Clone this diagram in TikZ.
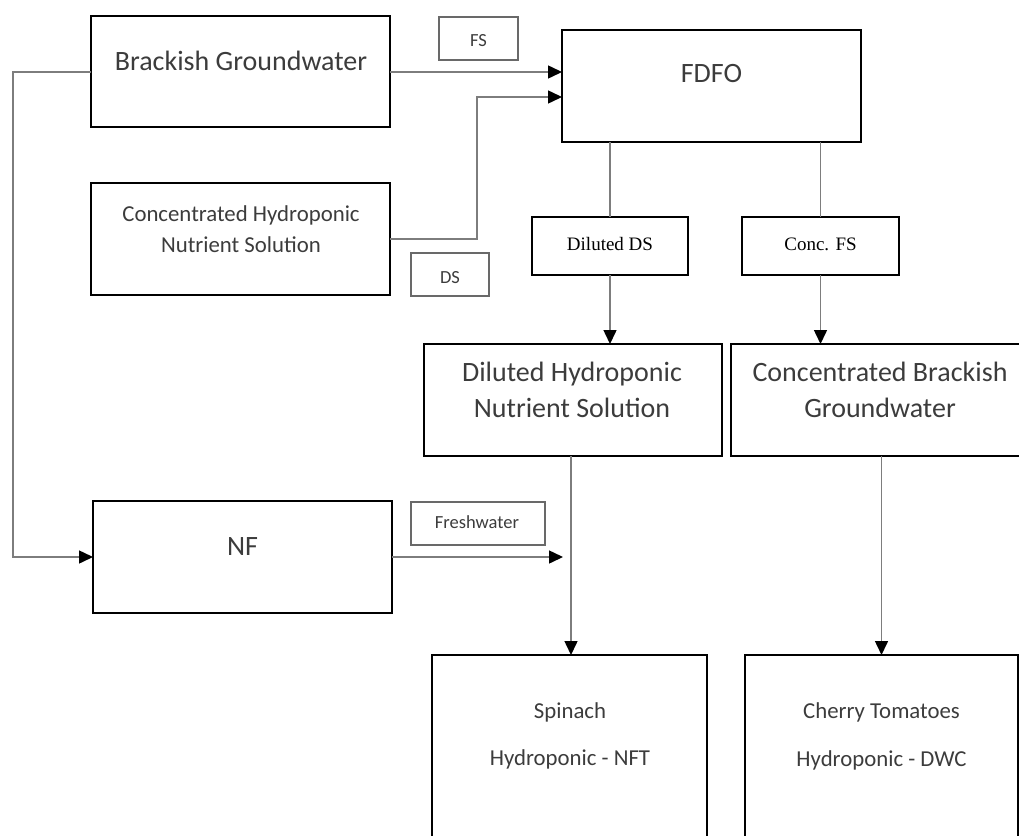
\documentclass[tikz,border=0pt]{standalone}
\usepackage{fontspec}
\newfontfamily\carlito{Carlito}
\newfontfamily\tnr{Liberation Serif}
\usetikzlibrary{arrows.meta}
\definecolor{txt}{RGB}{60,60,60}
\definecolor{lncol}{RGB}{125,125,125}
\definecolor{lbcol}{RGB}{105,105,105}
\begin{document}
\begin{tikzpicture}[x=1pt,y=-1pt,
  mainbox/.style={draw=black,line width=2.6pt,inner sep=0pt,outer sep=0pt,rectangle},
  tagbox/.style={draw=lbcol,line width=1.4pt,inner sep=0pt,outer sep=0pt,rectangle},
  midbox/.style={draw=black,line width=1.8pt,inner sep=0pt,outer sep=0pt,rectangle},
  bigtxt/.style={font=\carlito\fontsize{28}{33}\selectfont,text=txt,anchor=base,inner sep=0pt},
  medtxt/.style={font=\carlito\fontsize{22.8}{27}\selectfont,text=txt,anchor=base,inner sep=0pt},
  smltxt/.style={font=\carlito\fontsize{18.5}{22}\selectfont,text=txt,anchor=base,inner sep=0pt},
  tmstxt/.style={font=\tnr\fontsize{19}{23}\selectfont,text=black,anchor=base,inner sep=0pt},
  conline/.style={draw=lncol,line width=1.5pt},
  arrline/.style={conline,-{Triangle[length=14pt,width=13pt,color=black]}}
]
\useasboundingbox (0,0) rectangle (1019,835);
\clip (0,0) rectangle (1019,835);

% boxes
\node[mainbox,minimum width=299pt,minimum height=111pt] (bg)   at (240.5,71.5) {};
\node[mainbox,minimum width=299pt,minimum height=112pt] (chns) at (240.5,239) {};
\node[mainbox,minimum width=299pt,minimum height=112pt] (fdfo) at (711.5,86) {};
\node[tagbox,minimum width=79pt,minimum height=43pt]    (fs)   at (478.5,38.5) {};
\node[tagbox,minimum width=78pt,minimum height=43pt]    (ds)   at (450,274.5) {};
\node[midbox,minimum width=156pt,minimum height=58pt]   (dds)  at (610,246) {};
\node[midbox,minimum width=157pt,minimum height=58pt]   (cfs)  at (820.5,246) {};
\node[mainbox,minimum width=298pt,minimum height=112pt] (dhns) at (573,400) {};
\node[mainbox,minimum width=298pt,minimum height=112pt] (cbg)  at (880,400) {};
\node[mainbox,minimum width=299pt,minimum height=112pt] (nf)   at (242.5,557) {};
\node[tagbox,minimum width=134pt,minimum height=43pt]   (fw)   at (478,523.5) {};
\node[mainbox,minimum width=275pt,minimum height=245pt] (sp)   at (569.5,777.5) {};
\node[mainbox,minimum width=273pt,minimum height=245pt] (ct)   at (881.5,777.5) {};

% texts
\node[bigtxt] (t-bg) at (241,70) {Brackish Groundwater};
\node[medtxt] (t-chns1) at (241,221) {Concentrated Hydroponic};
\node[medtxt] (t-chns2) at (241,252) {Nutrient Solution};
\node[bigtxt] (t-fdfo) at (711.5,82) {FDFO};
\node[smltxt] (t-fs) at (478.5,46) {FS};
\node[smltxt] (t-ds) at (450,283) {DS};
\node[tmstxt] (t-dds) at (610,250) {Diluted DS};
\node[tmstxt] (t-cfs) at (820.5,250) {Conc. FS};
\node[bigtxt] (t-dhns1) at (572,381) {Diluted Hydroponic};
\node[bigtxt] (t-dhns2) at (572,417) {Nutrient Solution};
\node[bigtxt] (t-cbg1) at (880,381) {Concentrated Brackish};
\node[bigtxt] (t-cbg2) at (880,417) {Groundwater};
\node[bigtxt] (t-nf) at (242.5,555) {NF};
\node[smltxt] (t-fw) at (477,528) {Freshwater};
\node[medtxt] (t-sp1) at (570,718) {Spinach};
\node[medtxt] (t-sp2) at (570,765) {Hydroponic - NFT};
\node[medtxt] (t-ct1) at (881.5,718) {Cherry Tomatoes};
\node[medtxt] (t-ct2) at (881.5,766) {Hydroponic - DWC};

% connectors
\coordinate (fwend) at (563,557);
\draw[arrline] ([yshift=-0.5pt]bg.west) -- ++(-78,0) |- (nf.west);
\draw[arrline] ([yshift=-0.5pt]bg.east) -- ([yshift=-0.5pt]bg.east -| fdfo.west);
\draw[arrline] (chns.east) -- ++(87,0) |- ([yshift=-11pt]fdfo.west);
\draw[conline] (dds.north |- fdfo.south) -- (dds.north);
\draw[conline] (cfs.north |- fdfo.south) -- (cfs.north);
\draw[arrline] (dds.south) -- (dds.south |- dhns.north);
\draw[arrline] (cfs.south) -- (cfs.south |- cbg.north);
\draw[arrline] ([xshift=-2pt]dhns.south) -- ([xshift=-2pt]dhns.south |- sp.north);
\draw[arrline] (ct.north |- cbg.south) -- (ct.north);
\draw[arrline] (nf.east) -- (fwend);
\end{tikzpicture}
\end{document}
